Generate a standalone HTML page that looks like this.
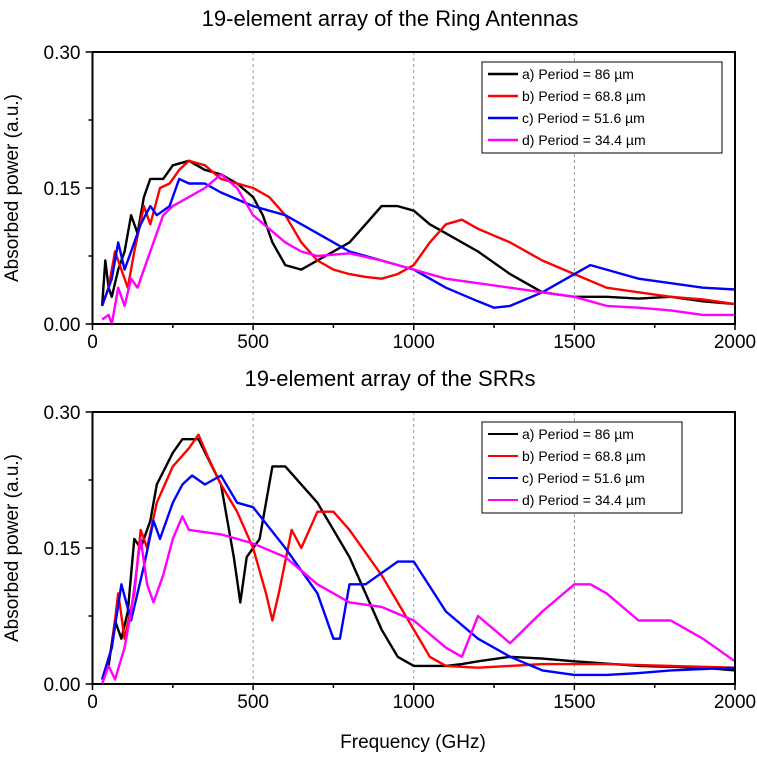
<!DOCTYPE html>
<html><head><meta charset="utf-8"><style>
body{margin:0;background:#fff;}
text{font-family:"Liberation Sans",sans-serif;}
</style></head><body>
<svg id="c" width="757" height="755" xmlns="http://www.w3.org/2000/svg"></svg>
<script>
const ticksX=[0,500,1000,1500,2000];
const ticksY=[0.00,0.15,0.30];
const labels=["a) Period = 86 \u00b5m","b) Period = 68.8 \u00b5m","c) Period = 51.6 \u00b5m","d) Period = 34.4 \u00b5m"];
const colors=["#000","#f00","#00f","#f0f"];
const topF=[
[30,40,50,60,80,100,120,140,160,180,220,250,300,350,400,450,500,530,560,600,650,700,750,800,850,900,950,1000,1050,1100,1200,1300,1400,1500,1600,1700,1800,1900,2000],
[30,50,70,90,110,130,160,180,210,240,270,300,350,400,450,500,550,600,650,700,750,800,850,900,950,1000,1050,1100,1150,1200,1300,1400,1500,1600,1700,1800,1900,2000],
[30,60,80,100,120,150,180,200,240,270,300,350,400,500,600,700,800,900,1000,1100,1200,1250,1300,1400,1500,1550,1600,1700,1800,1900,2000],
[30,50,60,80,100,120,140,170,190,220,250,300,350,400,450,500,550,600,650,700,800,900,1000,1100,1200,1300,1400,1500,1600,1700,1800,1900,2000]];
const topV=[
[0.02,0.07,0.04,0.03,0.06,0.08,0.12,0.10,0.14,0.16,0.16,0.175,0.18,0.17,0.165,0.155,0.14,0.12,0.09,0.065,0.06,0.07,0.08,0.09,0.11,0.13,0.13,0.125,0.11,0.10,0.08,0.055,0.035,0.03,0.03,0.028,0.03,0.025,0.022],
[0.02,0.04,0.08,0.06,0.04,0.08,0.13,0.11,0.15,0.155,0.17,0.18,0.175,0.16,0.155,0.15,0.14,0.12,0.09,0.07,0.06,0.055,0.052,0.05,0.055,0.065,0.09,0.11,0.115,0.105,0.09,0.07,0.055,0.04,0.035,0.03,0.027,0.022],
[0.02,0.05,0.09,0.06,0.08,0.11,0.13,0.12,0.13,0.16,0.155,0.155,0.145,0.13,0.12,0.10,0.08,0.07,0.06,0.04,0.025,0.018,0.02,0.035,0.055,0.065,0.06,0.05,0.045,0.04,0.038],
[0.005,0.01,0.0,0.04,0.02,0.05,0.04,0.07,0.09,0.12,0.13,0.14,0.15,0.165,0.15,0.12,0.105,0.09,0.08,0.075,0.078,0.07,0.06,0.05,0.045,0.04,0.035,0.03,0.02,0.018,0.015,0.01,0.01]];
const botF=[
[30,50,70,90,110,130,150,180,200,250,280,330,400,440,460,480,520,560,600,700,800,900,950,1000,1100,1150,1200,1300,1400,1500,1700,1900,2000],
[30,60,80,100,130,150,170,200,250,300,330,360,400,450,500,540,560,580,620,650,700,750,800,900,1000,1050,1100,1200,1300,1400,1600,1800,2000],
[30,60,90,120,160,190,210,250,280,310,350,400,450,500,600,700,750,770,800,850,950,1000,1100,1200,1300,1400,1500,1600,1700,1800,2000],
[30,50,70,100,120,150,170,190,220,250,280,300,400,450,500,600,700,800,900,1000,1100,1150,1200,1250,1300,1400,1500,1550,1600,1700,1800,1900,2000]];
const botV=[
[0.005,0.02,0.07,0.05,0.08,0.16,0.15,0.18,0.22,0.255,0.27,0.27,0.22,0.14,0.09,0.14,0.16,0.24,0.24,0.2,0.14,0.06,0.03,0.02,0.02,0.022,0.025,0.03,0.028,0.025,0.02,0.018,0.015],
[0.005,0.04,0.1,0.05,0.1,0.17,0.15,0.2,0.24,0.26,0.275,0.25,0.22,0.19,0.15,0.1,0.07,0.1,0.17,0.15,0.19,0.19,0.17,0.12,0.06,0.03,0.02,0.018,0.02,0.022,0.022,0.02,0.018],
[0.005,0.04,0.11,0.07,0.13,0.18,0.16,0.2,0.22,0.23,0.22,0.23,0.2,0.195,0.15,0.1,0.05,0.05,0.11,0.11,0.135,0.135,0.08,0.05,0.03,0.015,0.01,0.01,0.012,0.015,0.018],
[0.0,0.02,0.005,0.04,0.08,0.16,0.11,0.09,0.12,0.16,0.185,0.17,0.165,0.16,0.155,0.14,0.11,0.09,0.085,0.07,0.04,0.03,0.075,0.06,0.045,0.08,0.11,0.11,0.1,0.07,0.07,0.05,0.025]];

const svg=document.getElementById('c');
const NS="http://www.w3.org/2000/svg";
function mk(t,a,p){const e=document.createElementNS(NS,t);for(const k in a)e.setAttribute(k,a[k]);(p||svg).appendChild(e);return e;}
const X0=92.5,X1=735;
function sx(f){return X0+(f/2000)*(X1-X0);}
function panel(top,bot,title,F,V,name,legW,legStroke){
  const g=mk('g',{});
  
  
  const sy=v=>bot-(v/0.30)*(bot-top);
  const t=mk('text',{x:390,y:top-26,'text-anchor':'middle','font-size':22},g);t.textContent=title;
  
  for(const f of [500,1000,1500]){const l=mk('line',{x1:sx(f),x2:sx(f),y1:top,y2:bot,stroke:'#999','stroke-dasharray':'3,3','stroke-width':1},g);
    }
  for(let s=0;s<4;s++){
    const d=F[s].map((f,i)=>(i?'L':'M')+sx(f).toFixed(1)+','+sy(V[s][i]).toFixed(1)).join(' ');
    const p=mk('path',{d:d,fill:'none',stroke:colors[s],'stroke-width':2.4,'stroke-linejoin':'round'},g);
    
  }
  const fr=mk('rect',{x:X0,y:top,width:X1-X0,height:bot-top,fill:'none',stroke:'#000','stroke-width':2},g);
  
  for(let f=0;f<=2000;f+=250){mk('line',{x1:sx(f),x2:sx(f),y1:bot,y2:bot+(f%500?4:6),stroke:'#000','stroke-width':1.5},g);}
  for(const f of ticksX){const tx=mk('text',{x:sx(f),y:bot+24,'text-anchor':'middle','font-size':19},g);tx.textContent=f;
    }
  for(let v=0;v<=0.3001;v+=0.075){mk('line',{x1:X0,x2:X0-(Math.round(v/0.075)%2?4:7),y1:sy(v),y2:sy(v),stroke:'#000','stroke-width':1.5},g);}
  for(const v of ticksY){const ty=mk('text',{x:X0-12,y:sy(v)+7,'text-anchor':'end','font-size':19},g);ty.textContent=v.toFixed(2);
    }
  const yt=mk('text',{transform:`translate(18,${(top+bot)/2}) rotate(-90)`,'text-anchor':'middle','font-size':19},g);yt.textContent='Absorbed power (a.u.)';
  
  const lg=mk('g',{},g);
  
  const ly=top+10;
  mk('rect',{x:482,y:ly,width:legW,height:91,fill:'#fff',stroke:'#000','stroke-width':1},lg);
  for(let s=0;s<4;s++){
    const yy=ly+12+s*22;
    mk('line',{x1:488,x2:518,y1:yy,y2:yy,stroke:colors[s],'stroke-width':legStroke},lg);
    const lt=mk('text',{x:522,y:yy+5,'font-size':14},lg);lt.textContent=labels[s];
    
  }
}
panel(52,324,'19-element array of the Ring Antennas',topF,topV,'ring-antennas-panel',240,2.5);
panel(412,684,'19-element array of the SRRs',botF,botV,'srr-panel',200,2);
const xt=mk('text',{x:413,y:748,'text-anchor':'middle','font-size':19});xt.textContent='Frequency (GHz)';

</script>
</body></html>
